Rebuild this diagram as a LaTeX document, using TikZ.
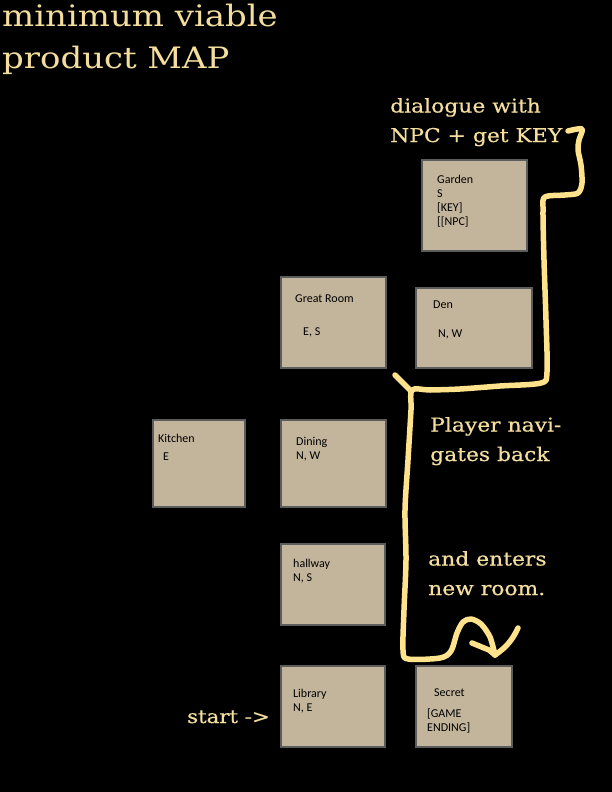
\documentclass[tikz,border=0pt]{standalone}
\usepackage{fontspec}
\setmainfont{Carlito}
\newfontfamily\handfont[FakeStretch=1.15]{DejaVu Serif}
\newfontfamily\notefont[FakeStretch=1.15,FakeBold=0.6]{DejaVu Serif}
\definecolor{roomfill}{HTML}{C3B59B}
\definecolor{roomedge}{HTML}{5C5C5C}
\definecolor{pencil}{HTML}{F4DE9E}
\definecolor{marker}{HTML}{FFE38C}
\def\markerW{5.5}
\def\roomSize{12}

\begin{document}
\begin{tikzpicture}[
    x=1pt, y=-1pt,
    room/.style={rectangle, draw=roomedge, fill=roomfill, line width=1.2pt, inner sep=0pt},
    roomtext/.style={anchor=base west, align=left, inner sep=0pt,
        font=\fontsize{\roomSize}{14}\selectfont},
    hand/.style={anchor=base west, align=left, inner sep=0pt, text=pencil},
    note/.style={hand, font=\notefont\fontsize{19}{29.5}\selectfont},
    scrawl/.style={draw=marker, line width=\markerW pt, line cap=round, line join=round}
]
\fill[black] (0,0) rectangle (612,792);
\useasboundingbox (0,0) rectangle (612,792);

% title (base = last line)
\node[hand, font=\handfont\fontsize{29.5}{41}\selectfont] (title) at (2,68)
    {minimum viable\\product MAP};

% rooms
\node[room, minimum width=105, minimum height=91] (garden) at (474.5,205.5) {};
\node[room, minimum width=105, minimum height=91] (greatroom) at (333.5,322.5) {};
\node[room, minimum width=116, minimum height=80] (den) at (474,328) {};
\node[room, minimum width=92, minimum height=87] (kitchen) at (199,463.5) {};
\node[room, minimum width=105, minimum height=87] (dining) at (333.5,463.5) {};
\node[room, minimum width=104, minimum height=81] (hallway) at (333,584.5) {};
\node[room, minimum width=104, minimum height=81] (library) at (333,706.5) {};
\node[room, minimum width=96, minimum height=81] (secret) at (464,706.5) {};

\node[roomtext] (garden-txt) at (437,225) {Garden\\S\\{[KEY]}\\{[[NPC]}};
\node[roomtext] (greatroom-txt) at (295,302) {Great Room};
\node[roomtext] (greatroom-exits) at (303,335) {E, S};
\node[roomtext] (den-txt) at (433,308) {Den};
\node[roomtext] (den-exits) at (438,337) {N, W};
\node[roomtext] (kitchen-txt) at (158,442) {Kitchen};
\node[roomtext] (kitchen-exits) at (163,460) {E};
\node[roomtext] (dining-txt) at (296,459) {Dining\\N, W};
\node[roomtext] (hallway-txt) at (293,581) {hallway\\N, S};
\node[roomtext] (library-txt) at (293,711) {Library\\N, E};
\node[roomtext] (secret-txt) at (434,696) {Secret};
\node[roomtext] (secret-end) at (427,731) {{[GAME}\\ENDING]};

% notes
\node[note] (note-npc) at (390,142) {dialogue with\\NPC + get KEY};
\node[note] (note-back) at (430,461) {Player navi-\\gates back};
\node[note] (note-enter) at (428,595) {and enters\\new room.};
\node[note, font=\notefont\fontsize{18.5}{22}\selectfont] (start) at (187,723) {start ->};

% the path drawn by hand
\coordinate (tip) at (495,655);
\draw[scrawl] plot[smooth, tension=0.5] coordinates {
    (568,131) (582,129) (579,140) (578,150) (581,165) (582,183) (578,193)
    (565,195) (545,197) (543,210) (544,260) (546,320) (547,372) (541,383)
    (500,386) (460,389) (430,390) (412,390) (411,410) (408,460) (405,510)
    (406,560) (404,610) (403,650) (408,659) (440,658) (451,651) (457,633)
    (463,622) (471,619) (481,624) (490,637) (tip)};
\draw[scrawl] (395,375) -- (411,391);
\draw[scrawl] (472,643) -- (489,650) -- (tip);
\draw[scrawl] (518,628) to[bend left=15] (tip);
\end{tikzpicture}
\end{document}
